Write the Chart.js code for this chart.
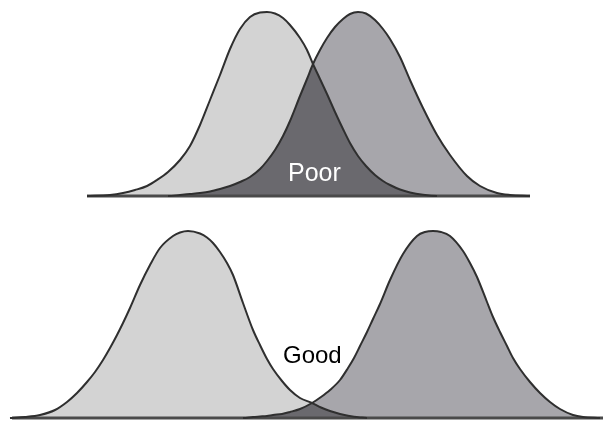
<!DOCTYPE html>
<html>
<head>
<meta charset="utf-8">
<script src="https://cdn.jsdelivr.net/npm/chart.js@4/dist/chart.umd.min.js"></script>
<style>
  html, body { margin: 0; padding: 0; background: #ffffff; }
  #wrap { position: relative; width: 603px; height: 421px; overflow: hidden; }
  canvas { position: absolute; left: 0; }
  #c1 { top: 0; }
  #c2 { top: 221px; }
</style>
</head>
<body>
<div id="wrap">
  <canvas id="c1" width="603" height="200"></canvas>
  <canvas id="c2" width="603" height="200"></canvas>
</div>
<script>
// ---- data ----
const panelLabels = ["Poor", "Good"];

// top panel (poor separation)
const topX     = [87,110,123,135,147,157,168,180,190,200,210,220,230,240,250,260,267,275,283,290,300,307,313,320,327,335,343,350,358,366,375,383,390,400,410,423,437,450,467,480,497,510,530];
const topLeft  = [0,1,3,6,10,16,24,36,50,71,96,121,147,167,179,183.5,184,182.5,178,171,158,146,132,117,102,84,67,53,40,30,21,15,11,6.5,3.5,1.2,0,0,0,0,0,0,0];
const topRight = [0,0,0,0,0,0,0,1,2,3,4.5,7,10,14,19,27,35,46,60,75,100,117,132,146,158,169,177,182,184,182.5,176,167,157,139,116,88,61,41,20,10,3,1,0];
const topBaseline = [87, 530];

// bottom panel (good separation)
const bottomX     = [10,25,40,55,67,77,87,95,103,110,117,123,130,140,150,160,173,180,188,200,207,213,220,227,233,243,253,260,267,273,282,290,300,312,321,330,340,348,354,360,367,373,380,390,403,417,425,433,441,450,463,470,477,487,493,500,507,513,520,530,540,550,560,573,583,600];
const bottomLeft  = [0,1,3,8,16,25,36,46,58,70,83,95,110,133,153,170,182,185.5,187,184.5,180.5,175,166,155,143,115,88,73,59,49,37,28,20,15,10.5,7,4,2.3,1.3,0.6,0,0,0,0,0,0,0,0,0,0,0,0,0,0,0,0,0,0,0,0,0,0,0,0,0,0];
const bottomRight = [0,0,0,0,0,0,0,0,0,0,0,0,0,0,0,0,0,0,0,0,0,0,0,0,0,0,1,1.5,2,3,4,6,9,15,21,28,38,50,60,72,86,99,114,138,164,182,186,187,186,182,167,155,141,116,101,86,72,60,49,36,25,16,9,3,1,0];
const bottomBaseline = [12, 603];

// ---- styles ----
const LIGHT = '#d3d3d3';
const MEDIUM = '#a7a6ab';
const DARK = '#6a696e';
const OUTLINE = '#2f2f2f';
const BASE = '#4a4a4a';

function pts(xs, ys) { return xs.map((x, i) => ({ x: x, y: ys[i] })); }

function outlineSeg(ctx) {
  return (ctx.p0.parsed.y === 0 && ctx.p1.parsed.y === 0) ? 'rgba(0,0,0,0)' : OUTLINE;
}

function makeChart(canvasId, xs, left, right, base, label, labelOpts, yMin, yMax) {
  const textPlugin = {
    id: 'panelText',
    afterDatasetsDraw(chart) {
      const c = chart.ctx;
      const sx = chart.scales.x, sy = chart.scales.y;
      c.save();
      c.font = labelOpts.font;
      c.fillStyle = labelOpts.color;
      c.textAlign = 'left';
      c.textBaseline = 'alphabetic';
      c.fillText(label, sx.getPixelForValue(labelOpts.x), sy.getPixelForValue(labelOpts.y));
      c.restore();
    }
  };
  return new Chart(document.getElementById(canvasId), {
    type: 'line',
    data: {
      datasets: [
        {
          data: pts(xs, left),
          order: 2,
          borderColor: OUTLINE,
          borderWidth: 2,
          segment: { borderColor: outlineSeg },
          backgroundColor: DARK,
          fill: 'origin',
          pointRadius: 0,
          cubicInterpolationMode: 'monotone'
        },
        {
          data: pts(xs, right),
          order: 1,
          borderColor: OUTLINE,
          borderWidth: 2,
          segment: { borderColor: outlineSeg },
          fill: { target: 0, above: MEDIUM, below: LIGHT },
          pointRadius: 0,
          cubicInterpolationMode: 'monotone'
        },
        {
          data: base.map(x => ({ x: x, y: 0 })),
          order: 3,
          borderColor: BASE,
          borderWidth: 3,
          fill: false,
          pointRadius: 0
        }
      ]
    },
    options: {
      responsive: false,
      animation: false,
      devicePixelRatio: 1,
      layout: { padding: 0 },
      scales: {
        x: { type: 'linear', display: false, min: 0, max: 603 },
        y: { type: 'linear', display: false, min: yMin, max: yMax }
      },
      plugins: {
        legend: { display: false },
        tooltip: { enabled: false },
        filler: { drawTime: 'beforeDatasetsDraw' }
      }
    },
    plugins: [textPlugin]
  });
}

makeChart('c1', topX, topLeft, topRight, topBaseline, panelLabels[0],
  { x: 288, y: 15, color: '#ffffff', font: '25px "Liberation Sans", Arial, sans-serif' }, -4, 196);
makeChart('c2', bottomX, bottomLeft, bottomRight, bottomBaseline, panelLabels[1],
  { x: 283, y: 55, color: '#000000', font: '24px "Liberation Sans", Arial, sans-serif' }, -3, 197);
</script>
</body>
</html>
